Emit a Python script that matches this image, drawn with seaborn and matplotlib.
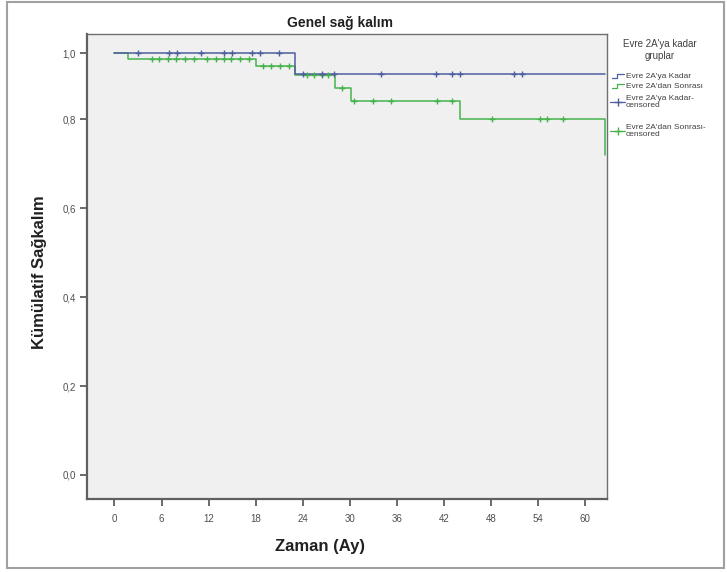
import numpy as np
import pandas as pd
import matplotlib
matplotlib.use("Agg")
import matplotlib.pyplot as plt
from matplotlib.lines import Line2D
from matplotlib.patches import Rectangle
import seaborn as sns

# ---- data ----
groups = ["Evre 2A'ya Kadar", "Evre 2A'dan Sonrası"]

blue_times = [0.0, 23.0, 62.6]
blue_surv = [1.0, 0.937, 0.937]
blue_censor = [3, 7, 8, 11, 14, 15, 17.5, 18.5, 21, 24, 26.5, 28, 34, 41, 43, 44, 51, 52]

green_times = [0.0, 1.75, 18.0, 23.0, 28.1, 30.1, 44.1, 62.5]
green_surv = [1.0, 0.983, 0.960, 0.935, 0.895, 0.855, 0.80, 0.72]
green_censor = [4.8, 5.7, 6.8, 7.9, 9.0, 10.1, 11.8, 12.9, 14.0, 14.9, 16.0, 17.1,
                19.0, 20.0, 21.1, 22.2, 24.5, 25.5, 26.5, 27.2, 29.0,
                30.6, 33.0, 35.2, 41.1, 43.0, 48.1, 54.3, 55.1, 57.2]

x_ticks = [0, 6, 12, 18, 24, 30, 36, 42, 48, 54, 60]
y_ticks = [0.0, 0.2, 0.4, 0.6, 0.8, 1.0]
y_tick_labels = ["0,0", "0,2", "0,4", "0,6", "0,8", "1,0"]

title = "Genel sağ kalım"
xlabel = "Zaman (Ay)"
ylabel = "Kümülatif Sağkalım"
legend_title = "Evre 2A'ya kadar\ngruplar"
legend_labels = ["Evre 2A'ya Kadar", "Evre 2A'dan Sonrası",
                 "Evre 2A'ya Kadar-\ncensored", "Evre 2A'dan Sonrası-\ncensored"]

blue = "#4E5E9E"
green = "#45B34C"

# ---- build tables ----
def step_value(times, surv, t):
    idx = np.searchsorted(np.asarray(times), t, side="right") - 1
    return np.asarray(surv)[idx]

curves = pd.concat([
    pd.DataFrame({"time": blue_times, "surv": blue_surv, "grp": groups[0]}),
    pd.DataFrame({"time": green_times, "surv": green_surv, "grp": groups[1]}),
], ignore_index=True)

cens = pd.concat([
    pd.DataFrame({"time": blue_censor,
                  "surv": [step_value(blue_times, blue_surv, t) for t in blue_censor],
                  "grp": groups[0]}),
    pd.DataFrame({"time": green_censor,
                  "surv": [step_value(green_times, green_surv, t) for t in green_censor],
                  "grp": groups[1]}),
], ignore_index=True)

sns.set_theme(style="white")
plt.rcParams["font.family"] = ["Liberation Sans", "DejaVu Sans"]

W, H = 727, 572
fig = plt.figure(figsize=(W / 100, H / 100), dpi=100)
ax = fig.add_axes([87 / W, 1 - 499 / H, (607 - 87) / W, (499 - 34) / H])
ax.set_facecolor("#F0F0F0")

# the reference's value axis is compressed above 0,8
K = 0.7416
def fwd(y):
    y = np.asarray(y, dtype=float)
    return np.where(y <= 0.8, y, 0.8 + (y - 0.8) * K)
def inv(y):
    y = np.asarray(y, dtype=float)
    return np.where(y <= 0.8, y, 0.8 + (y - 0.8) / K)
ax.set_yscale("function", functions=(fwd, inv))

palette = {groups[0]: blue, groups[1]: green}
for g in [groups[1], groups[0]]:
    d = curves[curves.grp == g]
    sns.lineplot(data=d, x="time", y="surv", ax=ax, color=palette[g],
                 drawstyle="steps-post", estimator=None, sort=False,
                 linewidth=1.1, legend=False)
for g in [groups[1], groups[0]]:
    d = cens[cens.grp == g]
    sns.scatterplot(data=d, x="time", y="surv", ax=ax, color=palette[g],
                    marker="+", s=22, linewidth=1.0, legend=False, zorder=3)

ax.set_xlim(-3.5, 62.8)
ax.set_ylim(-0.054, 1.058)
ax.set_xticks(x_ticks)
ax.set_xticklabels([str(v) for v in x_ticks])
ax.set_yticks(y_ticks)
ax.set_yticklabels(y_tick_labels)
ax.yaxis.set_minor_locator(matplotlib.ticker.NullLocator())
ax.tick_params(axis="both", direction="out", length=5, width=1.2, color="#505050",
               labelsize=7, labelcolor="#505050", pad=3)
ax.tick_params(axis="x", bottom=True, pad=6)
ax.tick_params(axis="y", left=True)

for sp in ax.spines.values():
    sp.set_color("#707070")
    sp.set_linewidth(1.0)
ax.spines["left"].set_linewidth(1.6)
ax.spines["bottom"].set_linewidth(1.6)
ax.spines["left"].set_color("#606060")
ax.spines["bottom"].set_color("#606060")

ax.set_xlabel(xlabel, fontsize=12, fontweight="bold", color="#202020")
ax.xaxis.set_label_coords((320 - 87) / (607 - 87), -(546 - 499) / (499 - 34), transform=ax.transAxes)
ax.xaxis.label.set_va("center")
ax.set_ylabel(ylabel, fontsize=12, fontweight="bold", color="#202020")
ax.yaxis.set_label_coords(-(87 - 40) / (607 - 87), (499 - 272) / (499 - 34), transform=ax.transAxes)
ax.yaxis.label.set_va("center")
fig.text(340 / W, 1 - 23 / H, title, ha="center", va="center",
         fontsize=10, fontweight="bold", color="#202020")

# ---- legend (SPSS style, placed beside the plot) ----
def fx(px):
    return px / W
def fy(py):
    return 1 - py / H

fig.text(fx(660), fy(50), legend_title, ha="center", va="center", fontsize=7,
         color="#404040", multialignment="center", linespacing=1.15)
text_x = 626
entry_y = [76, 86, 102, 131]
for i, (lab, ey) in enumerate(zip(legend_labels, entry_y)):
    col = blue if i % 2 == 0 else green
    if i < 2:
        xs = [612, 617, 617, 624]
        ys = [ey + 2, ey + 2, ey - 2, ey - 2]
        fig.add_artist(Line2D([fx(v) for v in xs], [fy(v) for v in ys],
                              transform=fig.transFigure, color=col, lw=0.9))
    else:
        fig.add_artist(Line2D([fx(610), fx(625)], [fy(ey), fy(ey)],
                              transform=fig.transFigure, color=col, lw=0.9))
        fig.add_artist(Line2D([fx(617.5)], [fy(ey)], transform=fig.transFigure,
                              color=col, marker="+", markersize=6, mew=1.0))
    fig.text(fx(text_x), fy(ey), lab, ha="left", va="center", fontsize=6,
             color="#404040", linespacing=1.1)

fig.patches.append(Rectangle((7 / W, 1 - 568 / H), (724 - 7) / W, (568 - 2) / H,
                             transform=fig.transFigure, fill=False,
                             edgecolor="#A0A0A0", linewidth=1.5))

fig.savefig("out.png", dpi=100)
